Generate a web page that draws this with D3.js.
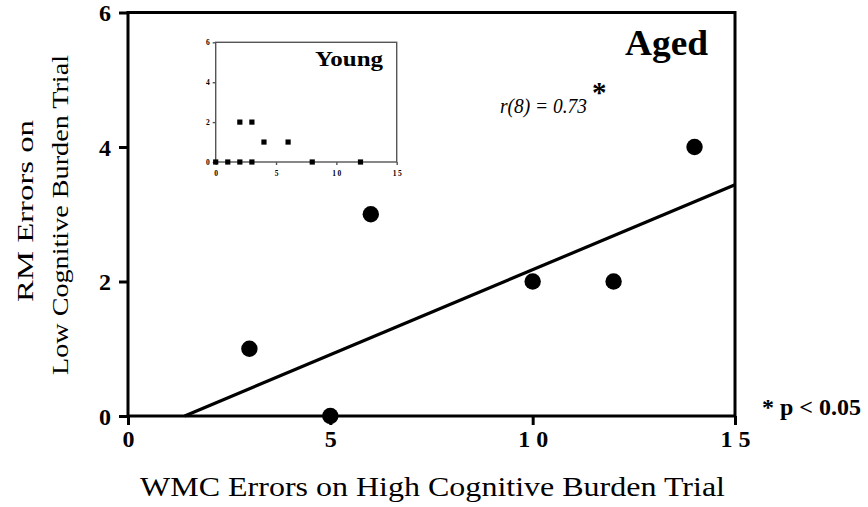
<!DOCTYPE html>
<html>
<head>
<meta charset="utf-8">
<script src="https://cdn.jsdelivr.net/npm/d3@7"></script>
<style>
  html, body { margin: 0; padding: 0; background: #fff; }
  svg { display: block; }
  svg text { font-family: "Liberation Serif", Tinos, "Times New Roman", Times, serif !important; fill: #000; }
</style>
</head>
<body>
<script>
// Aged group: WMC errors (high burden) vs RM errors (low burden)
const agedWmc = [3, 5, 6, 10, 12, 14];
const agedRm  = [1, 0, 3, 2, 2, 4];

// Fitted regression line end points for the aged group
const fitWmc = [1.4, 15];
const fitRm  = [0, 3.44];

// Young group (inset)
const youngWmc = [0, 1, 2, 2, 3, 3, 4, 6, 8, 12];
const youngRm  = [0, 0, 0, 2, 0, 2, 1, 1, 0, 0];

const xTicks = [0, 5, 10, 15];
const yTicks = [0, 2, 4, 6];
const xTickLabels = ["0", "5", "10", "15"];
const yTickLabels = ["0", "2", "4", "6"];

const SERIF = "'Liberation Serif', Tinos, 'Times New Roman', Times, serif";
const W = 868, H = 507;
const svg = d3.select("body").append("svg").attr("width", W).attr("height", H)
  .attr("font-family", SERIF);

// ---------- main plot ----------
const x = d3.scaleLinear().domain([0, 15]).range([128, 735]);
const y = d3.scaleLinear().domain([0, 6]).range([416, 12.5]);

const main = svg.append("g");

// frame
main.append("rect")
  .attr("x", x(0)).attr("y", y(6))
  .attr("width", x(15) - x(0)).attr("height", y(0) - y(6))
  .attr("fill", "none").attr("stroke", "#000").attr("stroke-width", 3);

const yAxis = main.append("g")
  .attr("transform", `translate(${x(0)},0)`)
  .call(d3.axisLeft(y).tickValues(yTicks).tickSize(9).tickPadding(8)
    .tickFormat((d, i) => yTickLabels[i]));
yAxis.attr("font-family", SERIF);
yAxis.select(".domain").remove();
yAxis.selectAll(".tick line").attr("stroke", "#000").attr("stroke-width", 3);
yAxis.selectAll(".tick text")
  .attr("font-size", 24).attr("font-weight", "bold")
  .attr("dy", "0.35em");

const xAxis = main.append("g")
  .attr("transform", `translate(0,${y(0)})`)
  .call(d3.axisBottom(x).tickValues(xTicks).tickSize(9).tickPadding(0)
    .tickFormat((d, i) => xTickLabels[i]));
xAxis.attr("font-family", SERIF);
xAxis.select(".domain").remove();
xAxis.selectAll(".tick line").attr("stroke", "#000").attr("stroke-width", 3);
xAxis.selectAll(".tick text")
  .attr("font-size", 24).attr("font-weight", "bold")
  .attr("y", 31).attr("dy", 0)
  .style("letter-spacing", d => String(d).length > 1 ? "6px" : "0px")
  .attr("dx", d => String(d).length > 1 ? 3 : 0);

// regression line
main.append("line")
  .attr("x1", x(fitWmc[0])).attr("y1", y(fitRm[0]))
  .attr("x2", x(fitWmc[1])).attr("y2", y(fitRm[1]))
  .attr("stroke", "#000").attr("stroke-width", 3.2);

// points
main.selectAll("circle.aged")
  .data(agedWmc.map((v, i) => [v, agedRm[i]]))
  .join("circle").attr("class", "aged")
  .attr("cx", d => x(d[0])).attr("cy", d => y(d[1]))
  .attr("r", 8.2).attr("fill", "#000");

// titles and annotations
svg.append("text")
  .attr("x", 140).attr("y", 496)
  .attr("font-size", 27)
  .attr("textLength", 585).attr("lengthAdjust", "spacingAndGlyphs")
  .text("WMC Errors on High Cognitive Burden Trial");

svg.append("text")
  .attr("transform", "translate(33,211) rotate(-90)")
  .attr("text-anchor", "middle")
  .attr("font-size", 24)
  .attr("textLength", 182).attr("lengthAdjust", "spacingAndGlyphs")
  .text("RM Errors on");

svg.append("text")
  .attr("transform", "translate(68,215) rotate(-90)")
  .attr("text-anchor", "middle")
  .attr("font-size", 24)
  .attr("textLength", 320).attr("lengthAdjust", "spacingAndGlyphs")
  .text("Low Cognitive Burden Trial");

svg.append("text")
  .attr("x", 625).attr("y", 55)
  .attr("font-size", 35).attr("font-weight", "bold")
  .attr("textLength", 83).attr("lengthAdjust", "spacingAndGlyphs")
  .text("Aged");

svg.append("text")
  .attr("x", 500).attr("y", 113)
  .attr("font-size", 21).attr("font-style", "italic")
  .attr("textLength", 87).attr("lengthAdjust", "spacingAndGlyphs")
  .text("r(8) = 0.73");

// significance marker, raised beside the coefficient
svg.append("text")
  .attr("x", 592).attr("y", 102)
  .attr("font-size", 29).attr("font-weight", "bold")
  .text("*");

svg.append("text")
  .attr("x", 762).attr("y", 415)
  .attr("font-size", 23).attr("font-weight", "bold")
  .attr("textLength", 99).attr("lengthAdjust", "spacingAndGlyphs")
  .text("* p < 0.05");

// ---------- inset: young group ----------
const ix = d3.scaleLinear().domain([0, 15]).range([215.7, 396.7]);
const iy = d3.scaleLinear().domain([0, 6]).range([162, 42.3]);
const inset = svg.append("g");

inset.append("rect")
  .attr("x", ix(0)).attr("y", iy(6))
  .attr("width", ix(15) - ix(0)).attr("height", iy(0) - iy(6))
  .attr("fill", "#fff").attr("stroke", "#555").attr("stroke-width", 1.4);

const iyAxis = inset.append("g")
  .attr("transform", `translate(${ix(0)},0)`)
  .call(d3.axisLeft(iy).tickValues(yTicks).tickSize(3).tickPadding(3)
    .tickFormat((d, i) => yTickLabels[i]));
iyAxis.attr("font-family", SERIF);
iyAxis.select(".domain").remove();
iyAxis.selectAll(".tick line").attr("stroke", "#555").attr("stroke-width", 1.4);
iyAxis.selectAll(".tick text")
  .attr("font-size", 7.5).attr("font-weight", "bold")
  .attr("fill", "#222");

const ixAxis = inset.append("g")
  .attr("transform", `translate(0,${iy(0)})`)
  .call(d3.axisBottom(ix).tickValues(xTicks).tickSize(3).tickPadding(6)
    .tickFormat((d, i) => xTickLabels[i]));
ixAxis.attr("font-family", SERIF);
ixAxis.select(".domain").remove();
ixAxis.selectAll(".tick line").attr("stroke", "#555").attr("stroke-width", 1.4);
ixAxis.selectAll(".tick text")
  .attr("font-size", 7.5).attr("font-weight", "bold")
  .attr("fill", "#222")
  .style("letter-spacing", d => String(d).length > 1 ? "1.5px" : "0px")
  .attr("dx", d => String(d).length > 1 ? 0.75 : 0);

inset.selectAll("rect.young")
  .data(youngWmc.map((v, i) => [v, youngRm[i]]))
  .join("rect").attr("class", "young")
  .attr("x", d => ix(d[0]) - 2.6).attr("y", d => iy(d[1]) - 2.6)
  .attr("width", 5.2).attr("height", 5.2)
  .attr("fill", "#000");

inset.append("text")
  .attr("x", 315).attr("y", 66)
  .attr("font-size", 22).attr("font-weight", "bold")
  .attr("textLength", 68).attr("lengthAdjust", "spacingAndGlyphs")
  .text("Young");
</script>
</body>
</html>
